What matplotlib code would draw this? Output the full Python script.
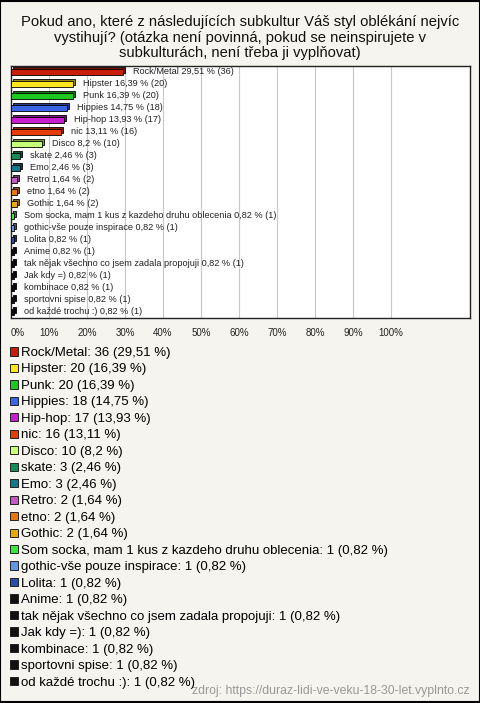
import matplotlib.pyplot as plt
from matplotlib.patches import Patch, Rectangle
from matplotlib import transforms
import matplotlib.colors as mcolors

plt.rcParams['font.family'] = ['Liberation Sans', 'DejaVu Sans']

# data
categories = ["Rock/Metal", "Hipster", "Punk", "Hippies", "Hip-hop", "nic", "Disco",
              "skate", "Emo", "Retro", "etno", "Gothic",
              "Som socka, mam 1 kus z kazdeho druhu oblecenia",
              "gothic-vše pouze inspirace", "Lolita", "Anime",
              "tak nějak všechno co jsem zadala propojuji", "Jak kdy =)",
              "kombinace", "sportovni spise", "od každé trochu :)"]
counts = [36, 20, 20, 18, 17, 16, 10, 3, 3, 2, 2, 2, 1, 1, 1, 1, 1, 1, 1, 1, 1]
percents = [29.51, 16.39, 16.39, 14.75, 13.93, 13.11, 8.2, 2.46, 2.46, 1.64, 1.64, 1.64,
            0.82, 0.82, 0.82, 0.82, 0.82, 0.82, 0.82, 0.82, 0.82]
colors = ["#c81e0a", "#ffe61e", "#1ec81e", "#3c64e6", "#c81ed2", "#e63c0a", "#c8ff78",
          "#148c5a", "#14788c", "#c35ac3", "#e6780a", "#e6aa0a", "#3ce63c", "#6496e6",
          "#2850aa", "#111111", "#111111", "#111111", "#111111", "#111111", "#111111"]
xticks = [0, 10, 20, 30, 40, 50, 60, 70, 80, 90, 100]

def fmt(v):
    return ("%g" % v).replace(".", ",")

bg = "#f5f4ee"
fig = plt.figure(figsize=(4.8, 7.03), dpi=100)
fig.patch.set_facecolor(bg)
fig.patches.append(Rectangle((0.001, 0.001), 0.998, 0.998, transform=fig.transFigure,
                             fill=False, edgecolor="black", lw=1.5))

fig.text(0.5, 1 - 15 / 703,
         "Pokud ano, které z následujících subkultur Váš styl oblékání nejvíc\n"
         "vystihují? (otázka není povinná, pokud se neinspirujete v\n"
         "subkulturách, není třeba ji vyplňovat)",
         ha="center", va="top", fontsize=10.6, linespacing=1.15, color="#111111")

ax = fig.add_axes([11 / 480, 1 - 318 / 703, 459 / 480, 252 / 703])
ax.set_facecolor("white")
ax.set_xlim(0, 120.8)
ax.set_ylim(len(categories) - 0.5, -0.5)
for s in ax.spines.values():
    s.set_color("#222222")
    s.set_linewidth(1.0)
for t in xticks:
    ax.axvline(t, color="#c8c8c8", lw=0.8, zorder=0)

ypos = list(range(len(categories)))
shadow = transforms.offset_copy(ax.transData, fig=fig, x=2, y=2, units="dots")
dark = [tuple(c * 0.6 for c in mcolors.to_rgb(col)) for col in colors]
ax.barh(ypos, percents, height=0.42, color=dark, edgecolor="black", lw=0.6,
        transform=shadow, zorder=2)
ax.barh(ypos, percents, height=0.42, color=colors, edgecolor="black", lw=0.6, zorder=3)

for y, cat, p, n in zip(ypos, categories, percents, counts):
    ax.annotate("%s %s %% (%d)" % (cat, fmt(p), n), (p, y), xytext=(7, 0),
                textcoords="offset points", va="center", ha="left",
                fontsize=6.6, color="#222222", zorder=4)

ax.set_xticks(xticks)
ax.set_xticklabels(["%d%%" % t for t in xticks], fontsize=7.0, color="#222222")
ax.get_xticklabels()[0].set_horizontalalignment("left")
ax.tick_params(axis="x", length=0, pad=7)
ax.set_yticks([])

handles = [Patch(facecolor=c, edgecolor="#222222", lw=0.7) for c in colors]
labels = ["%s: %d (%s %%)" % (c, n, fmt(p)) for c, n, p in zip(categories, counts, percents)]
fig.legend(handles, labels, loc="upper left", bbox_to_anchor=(10 / 480, 1 - 347 / 703),
           frameon=False, fontsize=9.5, handlelength=0.6, handleheight=0.6,
           handletextpad=0.25, labelspacing=0.34, borderpad=0, borderaxespad=0)

fig.text(470 / 480, 1 - 691 / 703, "zdroj: https://duraz-lidi-ve-veku-18-30-let.vyplnto.cz",
         ha="right", va="center", fontsize=8.8, color="#999999")

fig.savefig("out.png", dpi=100, facecolor=bg)
